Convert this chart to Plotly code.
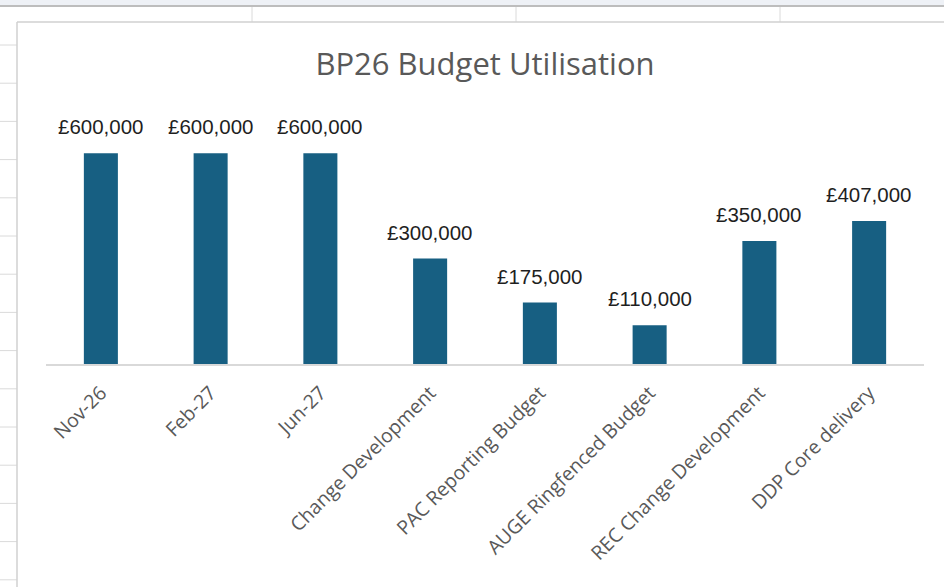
import plotly.graph_objects as go

categories = ["Nov-26", "Feb-27", "Jun-27", "Change Development", "PAC Reporting Budget",
              "AUGE Ringfenced Budget", "REC Change Development", "DDP Core delivery"]
values = [600000, 600000, 600000, 300000, 175000, 110000, 350000, 407000]
labels = ["£{:,.0f}".format(v) for v in values]

W, H = 944, 587
ML, MR, MT, MB = 46, 20, 118, 223
PW, PH = W - ML - MR, H - MT - MB

def px(x):
    return (x - ML) / PW

def py(y):
    return (H - MB - y) / PH

fig = go.Figure(go.Bar(
    x=categories, y=values,
    marker=dict(color="#175f82", line=dict(width=0)),
    hoverinfo="skip",
))

annotations = [
    dict(x=c, y=v, text=t, xref="x", yref="y", showarrow=False, yanchor="bottom", yshift=13,
         font=dict(family="Liberation Sans, Arial", size=20.5, color="#1f1f1f"))
    for c, v, t in zip(categories, values, labels)
]

shapes = []
grid = "#dadada"
# spreadsheet header strip
shapes.append(dict(type="rect", xref="paper", yref="paper", x0=px(0), x1=px(W), y0=py(0), y1=py(5),
                   fillcolor="#eef1f6", line=dict(width=0), layer="below"))
shapes.append(dict(type="line", xref="paper", yref="paper", x0=px(0), x1=px(W), y0=py(6), y1=py(6),
                   line=dict(color="#bdbdbd", width=2), layer="below"))
# cell gridlines above chart
for gx in [252, 516, 780]:
    shapes.append(dict(type="line", xref="paper", yref="paper", x0=px(gx), x1=px(gx), y0=py(7), y1=py(22),
                       line=dict(color=grid, width=1), layer="below"))
# left column gridlines
yy = 45.0
while yy < H:
    shapes.append(dict(type="line", xref="paper", yref="paper", x0=px(0), x1=px(17), y0=py(yy), y1=py(yy),
                       line=dict(color=grid, width=1), layer="below"))
    yy += 38.2
# chart area border
shapes.append(dict(type="line", xref="paper", yref="paper", x0=px(17), x1=px(W), y0=py(22), y1=py(22),
                   line=dict(color="#d0d0d0", width=1.5), layer="below"))
shapes.append(dict(type="line", xref="paper", yref="paper", x0=px(17), x1=px(17), y0=py(22), y1=py(H),
                   line=dict(color="#d0d0d0", width=1.5), layer="below"))

fig.update_layout(
    width=W, height=H,
    margin=dict(l=ML, r=MR, t=MT, b=MB, autoexpand=False),
    paper_bgcolor="white", plot_bgcolor="white",
    bargap=0.69,
    showlegend=False,
    title=dict(text="BP26 Budget Utilisation", x=0.5, xref="paper", xanchor="center",
               y=1 - 64 / H, yref="container", yanchor="middle",
               font=dict(family="Open Sans", size=31, color="#595959")),
    xaxis=dict(tickangle=-45, showline=True, linecolor="#d9d9d9", linewidth=1.5, ticks="",
               ticklabelstandoff=8,
               showgrid=False, tickfont=dict(family="Open Sans", size=19.5, color="#595959")),
    yaxis=dict(range=[0, 700000], visible=False, showgrid=False, zeroline=False),
    shapes=shapes,
    annotations=annotations,
)

fig.write_html("out.html")
